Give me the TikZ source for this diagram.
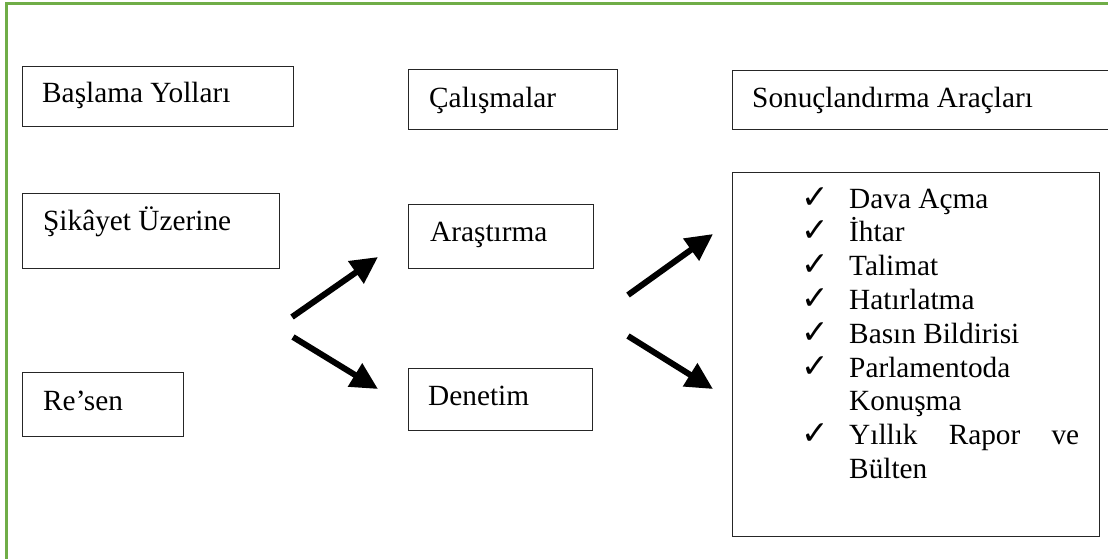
\documentclass[tikz,border=0pt]{standalone}
\usepackage{fontspec}
\setmainfont{Liberation Serif}
\newfontfamily\symfont{DejaVu Sans}
\usetikzlibrary{arrows.meta}
\definecolor{framegreen}{RGB}{112,173,71}
\begin{document}
\begin{tikzpicture}[x=1pt,y=-1pt,
  box/.style={draw=black!85,line width=1.4pt,rectangle,inner sep=0pt,anchor=north west},
  txt/.style={anchor=base west,inner sep=0pt,font=\fontsize{29.3}{33.8}\selectfont},
  chk/.style={anchor=base west,inner sep=0pt,font=\symfont\fontsize{33}{36}\selectfont},
  bigarrow/.style={line width=6pt,-{Triangle[length=27pt,width=26pt]}}]
\useasboundingbox (0,0) rectangle (1108,558);
\fill[white] (0,0) rectangle (1108,558);
% green frame (only top and left visible)
\draw[framegreen,line width=3pt] (6,560) -- (6,3.5) -- (1110,3.5);
% header boxes
\node[box,minimum width=271pt,minimum height=60pt] (bas) at (22,66) {};
\node[txt] (tbas) at (42,102) {Başlama Yolları};
\node[box,minimum width=209pt,minimum height=60pt] (cal) at (408,69) {};
\node[txt] (tcal) at (429,107.5) {Çalışmalar};
\node[box,minimum width=390pt,minimum height=59pt] (son) at (732,70) {};
\node[txt] (tson) at (752,107.5) {Sonuçlandırma Araçları};
% left column
\node[box,minimum width=257pt,minimum height=75pt] (sik) at (22,193) {};
\node[txt] (tsik) at (43,230) {Şikâyet Üzerine};
\node[box,minimum width=161pt,minimum height=64pt] (res) at (22,372) {};
\node[txt] (tres) at (43,410) {Re’sen};
% middle column
\node[box,minimum width=185pt,minimum height=64pt] (ara) at (408,204) {};
\node[txt] (tara) at (430,241.5) {Araştırma};
\node[box,minimum width=184pt,minimum height=62pt] (den) at (408,368) {};
\node[txt] (tden) at (428,405) {Denetim};
% right list box
\node[box,minimum width=367pt,minimum height=364pt] (lst) at (732,172) {};
\foreach \i/\y in {1/208,2/241.8,3/275.6,4/309.4,5/343.2,6/377,7/444.6}{
  \node[chk] (c\i) at (801,\y) {✓};
}
\node[txt] (l1) at (849,208) {Dava Açma};
\node[txt] (l2) at (849,241.8) {İhtar};
\node[txt] (l3) at (849,275.6) {Talimat};
\node[txt] (l4) at (849,309.4) {Hatırlatma};
\node[txt] (l5) at (849,343.2) {Basın Bildirisi};
\node[txt] (l6) at (849,377) {Parlamentoda};
\node[txt] (l6b) at (849,410.8) {Konuşma};
\node[txt] (l7) at (849,444.6) {\makebox[230pt][s]{Yıllık\hfill Rapor\hfill ve}};
\node[txt] (l7b) at (849,478.4) {Bülten};
% arrows
\coordinate (a1s) at (292,317); \coordinate (a1e) at (378,257);
\coordinate (a2s) at (293,337); \coordinate (a2e) at (378,389);
\coordinate (a3s) at (628,295); \coordinate (a3e) at (713,234);
\coordinate (a4s) at (628,336); \coordinate (a4e) at (713,389);
\draw[bigarrow] (a1s) -- (a1e);
\draw[bigarrow] (a2s) -- (a2e);
\draw[bigarrow] (a3s) -- (a3e);
\draw[bigarrow] (a4s) -- (a4e);
\end{tikzpicture}
\end{document}
